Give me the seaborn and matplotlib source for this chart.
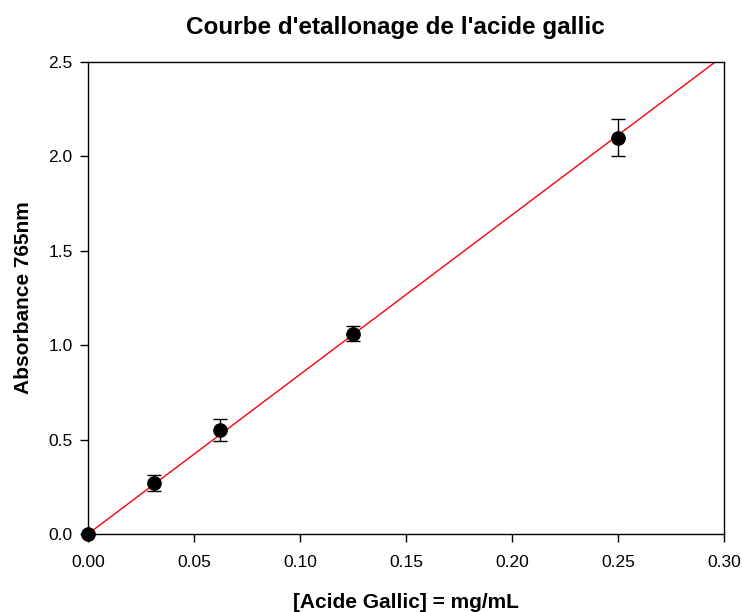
import numpy as np
import pandas as pd
import matplotlib
matplotlib.use("Agg")
import matplotlib.pyplot as plt
import seaborn as sns

# Data
conc = [0.0, 0.03125, 0.0625, 0.125, 0.25]
absorb = [0.0, 0.27, 0.55, 1.06, 2.10]
err = [0.0, 0.045, 0.06, 0.04, 0.10]
fit_slope = 8.45
fit_intercept = 0.0
fit_x = [0.0, 0.30]
xticks = [0.0, 0.05, 0.10, 0.15, 0.20, 0.25, 0.30]
xtick_labels = ["0.00", "0.05", "0.10", "0.15", "0.20", "0.25", "0.30"]
yticks = [0.0, 0.5, 1.0, 1.5, 2.0, 2.5]
ytick_labels = ["0.0", "0.5", "1.0", "1.5", "2.0", "2.5"]

sns.set_theme(style="white")
plt.rcParams['font.family'] = ['Liberation Sans', 'DejaVu Sans']
plt.rcParams['text.color'] = 'black'
plt.rcParams['axes.labelcolor'] = 'black'
plt.rcParams['xtick.color'] = 'black'
plt.rcParams['ytick.color'] = 'black'

fig = plt.figure(figsize=(7.42, 6.12), dpi=100)
ax = fig.add_axes([0.1186, 0.1275, 0.8571, 0.7712])

df = pd.DataFrame({"x": conc, "y": absorb})
fit_df = pd.DataFrame({"x": fit_x, "y": [fit_slope * v + fit_intercept for v in fit_x]})

sns.lineplot(data=fit_df, x="x", y="y", ax=ax, color="red", linewidth=1.0, zorder=2)
ax.errorbar(conc, absorb, yerr=err, fmt="none", ecolor="black", elinewidth=1.0,
            capsize=4.7, capthick=1.0, zorder=3)
sns.scatterplot(data=df, x="x", y="y", ax=ax, color="black", s=95, edgecolor="black",
                zorder=4, clip_on=False)

ax.set_xlim(0, 0.30)
ax.set_ylim(0, 2.5)
ax.set_xticks(xticks)
ax.set_xticklabels(xtick_labels)
ax.set_yticks(yticks)
ax.set_yticklabels(ytick_labels)
ax.tick_params(axis="both", direction="out", length=6, width=1, labelsize=12.5,
               bottom=True, left=True, colors="black")
ax.tick_params(axis="x", pad=9)
ax.tick_params(axis="y", pad=5)
for s in ax.spines.values():
    s.set_color("black")
    s.set_linewidth(1.0)

ax.set_xlabel("[Acide Gallic] = mg/mL", fontsize=15, fontweight="bold", labelpad=17)
ax.set_ylabel("Absorbance 765nm", fontsize=15, fontweight="bold", labelpad=11)
ax.set_title("Courbe d'etallonage de l'acide gallic", fontsize=17.5, fontweight="bold",
             pad=20, x=0.483)

fig.savefig("out.png", dpi=100)
